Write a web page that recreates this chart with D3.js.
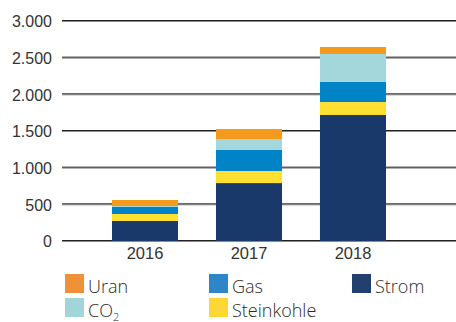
<!DOCTYPE html>
<html>
<head>
<meta charset="utf-8">
<script src="https://cdn.jsdelivr.net/npm/d3@7"></script>
<style>
  html, body { margin: 0; padding: 0; background: #fff; }
  svg { display: block; }
</style>
</head>
<body>
<svg id="chart" width="456" height="322"></svg>
<script>
// Years on the x axis
const years = ["2016", "2017", "2018"];
// Stacked cost components, bottom to top
const seriesNames = ["Strom", "Steinkohle", "Gas", "CO2", "Uran"];
const strom      = [273, 790, 1718];
const steinkohle = [95, 165, 177];
const gas        = [96, 286, 273];
const co2        = [13, 150, 382];
const uran       = [82, 136, 95];
// Value axis ticks
const yTicks = [0, 500, 1000, 1500, 2000, 2500, 3000];

const colors = {
  Strom: "#1a396b",
  Steinkohle: "#fee032",
  Gas: "#0083c7",
  CO2: "#a4d7dc",
  Uran: "#f39a1f"
};
const legendColors = {
  Strom: "#22406e",
  Steinkohle: "#fdd835",
  Gas: "#2e86c8",
  CO2: "#a2d5d8",
  Uran: "#f0913a"
};

const valuesBySeries = { Strom: strom, Steinkohle: steinkohle, Gas: gas, CO2: co2, Uran: uran };
const rows = years.map((y, i) => {
  const r = { year: y };
  seriesNames.forEach(s => { r[s] = valuesBySeries[s][i]; });
  return r;
});

const svg = d3.select("#chart");
const W = 456;

const x = d3.scaleBand().domain(years).range([112, 386]).paddingInner(0.365).paddingOuter(0);
const y = d3.scaleLinear().domain([0, 3000]).range([241, 21]);

const textColor = "#333";
const font = "'Liberation Sans', Arial, sans-serif";

// Gridlines
const grid = svg.append("g");
yTicks.forEach(t => {
  grid.append("line")
    .attr("x1", 62).attr("x2", W)
    .attr("y1", y(t) + 0.5).attr("y2", y(t) + 0.5)
    .attr("stroke", "#8a8a8a").attr("stroke-width", 1);
  grid.append("line")
    .attr("x1", 62).attr("x2", W)
    .attr("y1", y(t) - 0.5).attr("y2", y(t) - 0.5)
    .attr("stroke", "#222").attr("stroke-width", 1);
});

// Y axis labels
const fmt = d3.formatLocale({ decimal: ",", thousands: ".", grouping: [3], currency: ["", "€"] }).format(",");
const yAxis = d3.axisLeft(y).tickValues(yTicks).tickSize(0).tickPadding(0).tickFormat(fmt);
const gy = svg.append("g").attr("transform", "translate(52,0)").call(yAxis);
gy.select(".domain").remove();
gy.selectAll("text")
  .attr("fill", textColor)
  .style("font-family", font)
  .style("font-size", "16px")
  .attr("dy", "0.36em");

// Stacked bars
const stack = d3.stack().keys(seriesNames);
const layers = stack(rows);
svg.append("g").selectAll("g")
  .data(layers)
  .join("g")
  .attr("fill", d => colors[d.key])
  .selectAll("rect")
  .data(d => d)
  .join("rect")
  .attr("x", d => x(d.data.year))
  .attr("width", x.bandwidth())
  .attr("y", d => y(d[1]))
  .attr("height", d => y(d[0]) - y(d[1]));

// X axis labels
const xAxis = d3.axisBottom(x).tickSize(0).tickPadding(0);
const gx = svg.append("g").attr("transform", "translate(0,247)").call(xAxis);
gx.select(".domain").remove();
gx.selectAll("text")
  .attr("fill", textColor)
  .style("font-family", font)
  .style("font-size", "16.5px")
  .attr("dy", "0.71em");

// Legend
const legendItems = [
  { key: "Uran", label: "Uran", x: 65, y: 274 },
  { key: "Gas", label: "Gas", x: 209, y: 274 },
  { key: "Strom", label: "Strom", x: 352, y: 274 },
  { key: "CO2", label: "CO", sub: "2", x: 65, y: 298 },
  { key: "Steinkohle", label: "Steinkohle", x: 209, y: 298 }
];
const lg = svg.append("g");
legendItems.forEach(it => {
  lg.append("rect")
    .attr("x", it.x).attr("y", it.y)
    .attr("width", 19).attr("height", 19)
    .attr("fill", legendColors[it.key]);
  const t = lg.append("text")
    .attr("x", it.x + 23).attr("y", it.y + 18.5)
    .attr("fill", "#2e2a28")
    .style("font-family", "'Open Sans', sans-serif")
    .style("font-weight", 300)
    .style("font-size", "18px")
    .text(it.label);
  if (it.sub) {
    t.append("tspan")
      .attr("dy", 4)
      .style("font-size", "11px")
      .text(it.sub);
  }
});
</script>
</body>
</html>
